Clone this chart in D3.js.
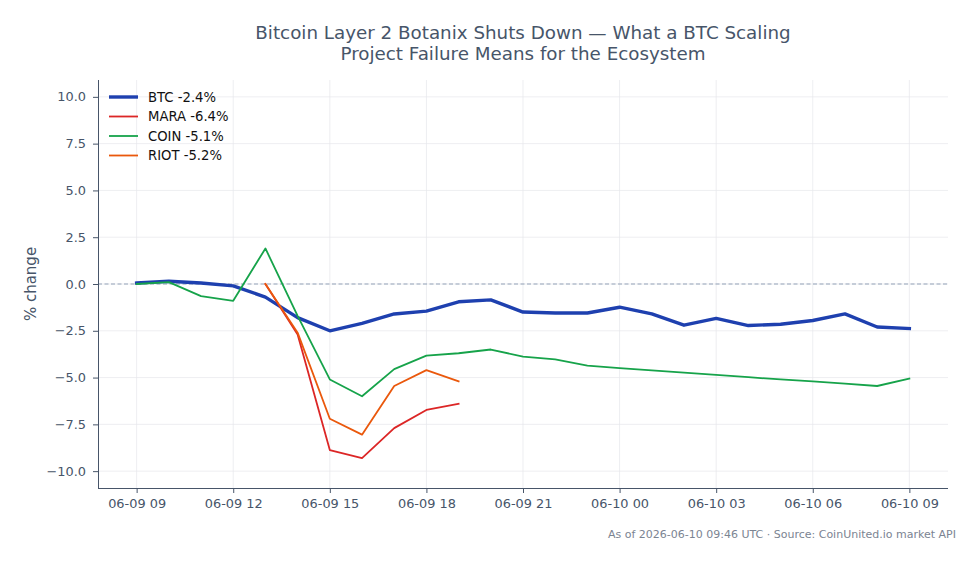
<!DOCTYPE html>
<html>
<head>
<meta charset="utf-8">
<script src="https://cdn.jsdelivr.net/npm/d3@7"></script>
<style>
  body { margin: 0; background: #fff; }
  svg { font-family: "DejaVu Sans", sans-serif; }
</style>
</head>
<body>
<div id="chart"></div>
<script>
const width = 979, height = 564;
const margin = {top: 80, right: 31, bottom: 76, left: 98};

// hourly points from 2026-06-09 09:00 UTC
const start = Date.UTC(2026, 5, 9, 9);
const hours = d3.range(25).map(i => new Date(start + i * 3600e3));

const btc = [0.05, 0.15, 0.05, -0.1, -0.7, -1.8, -2.5, -2.1, -1.6, -1.45, -0.95, -0.85, -1.5,
             -1.55, -1.55, -1.24, -1.6, -2.2, -1.84, -2.22, -2.15, -1.95, -1.6, -2.3, -2.38];
const coin = [0.0, 0.1, -0.65, -0.9, 1.9, -1.7, -5.1, -6.0, -4.55, -3.83, -3.7, -3.5, -3.88,
              -4.03, -4.36, -4.5, -4.62, -4.74, -4.86, -4.98, -5.1, -5.2, -5.32, -5.45, -5.05];
const mara = [0.0, -2.7, -8.87, -9.3, -7.7, -6.73, -6.4];   // from 13:00
const riot = [0.0, -2.6, -7.2, -8.05, -5.45, -4.6, -5.2];   // from 13:00

const series = [
  {name: "BTC -2.4%",  color: "#1e40af", w: 3.4, times: hours, values: btc},
  {name: "MARA -6.4%", color: "#dc2626", w: 1.8, times: hours.slice(4, 11), values: mara},
  {name: "COIN -5.1%", color: "#16a34a", w: 1.8, times: hours, values: coin},
  {name: "RIOT -5.2%", color: "#ea580c", w: 1.8, times: hours.slice(4, 11), values: riot}
];

const yTicks = [-10, -7.5, -5, -2.5, 0, 2.5, 5, 7.5, 10];

const pad = 1.2 * 3600e3;
const x = d3.scaleUtc()
  .domain([new Date(start - pad), new Date(+hours[24] + pad)])
  .range([margin.left, width - margin.right]);
const y = d3.scaleLinear()
  .domain([-10.9, 10.9])
  .range([height - margin.bottom, margin.top]);

const svg = d3.select("#chart").append("svg")
  .attr("width", width)
  .attr("height", height);

// grid
const xTicks = d3.utcHour.every(3).range(hours[0], new Date(+hours[24] + 1));
svg.append("g").selectAll("line").data(xTicks).enter().append("line")
  .attr("x1", d => x(d)).attr("x2", d => x(d))
  .attr("y1", margin.top).attr("y2", height - margin.bottom)
  .attr("stroke", "#e5e7eb").attr("stroke-width", 0.7);
svg.append("g").selectAll("line").data(yTicks).enter().append("line")
  .attr("x1", margin.left).attr("x2", width - margin.right)
  .attr("y1", d => y(d)).attr("y2", d => y(d))
  .attr("stroke", "#e5e7eb").attr("stroke-width", 0.7);

// zero line
svg.append("line")
  .attr("x1", margin.left).attr("x2", width - margin.right)
  .attr("y1", y(0)).attr("y2", y(0))
  .attr("stroke", "#94a3b8").attr("stroke-width", 1)
  .attr("stroke-dasharray", "4,2.5");

// axes
const fmtY = d => d3.format(".1f")(d).replace("-", "\u2212");
const yAxis = svg.append("g")
  .attr("transform", `translate(${margin.left},0)`)
  .call(d3.axisLeft(y).tickValues(yTicks).tickFormat(fmtY).tickSize(5).tickPadding(7));
const xAxis = svg.append("g")
  .attr("transform", `translate(0,${height - margin.bottom})`)
  .call(d3.axisBottom(x).tickValues(xTicks).tickFormat(d3.utcFormat("%m-%d %H")).tickSize(5).tickPadding(6));

[yAxis, xAxis].forEach(a => {
  a.attr("font-family", null).attr("font-size", null);
  a.select(".domain").attr("stroke", "#475569").attr("stroke-width", 1);
  a.selectAll(".tick line").attr("stroke", "#475569");
  a.selectAll(".tick text").attr("fill", "#475569").style("font-size", "12.9px");
});
yAxis.select(".domain").attr("d", `M0.5,${margin.top}V${height - margin.bottom}`);
xAxis.select(".domain").attr("d", `M${margin.left},0.5H${width - margin.right}`);

// lines
const line = d3.line().x(d => x(d[0])).y(d => y(d[1]));
series.forEach(s => {
  svg.append("path")
    .datum(d3.zip(s.times, s.values))
    .attr("fill", "none")
    .attr("stroke", s.color)
    .attr("stroke-width", s.w)
    .attr("stroke-linejoin", "round")
    .attr("stroke-linecap", "square")
    .attr("d", line);
});

// legend
const legend = svg.append("g").attr("transform", "translate(109,97)");
series.forEach((s, i) => {
  const g = legend.append("g").attr("transform", `translate(0,${i * 19.5})`);
  g.append("line").attr("x1", 0).attr("x2", 29).attr("y1", 0).attr("y2", 0)
    .attr("stroke", s.color).attr("stroke-width", s.w);
  g.append("text").attr("x", 39).attr("y", 4.8)
    .style("font-size", "13.2px").attr("fill", "#111").text(s.name);
});

// title
const title = svg.append("text")
  .attr("text-anchor", "middle")
  .attr("fill", "#475569")
  .style("font-size", "18.3px");
title.append("tspan").attr("x", 523).attr("y", 38.5)
  .text("Bitcoin Layer 2 Botanix Shuts Down \u2014 What a BTC Scaling");
title.append("tspan").attr("x", 523).attr("y", 60)
  .text("Project Failure Means for the Ecosystem");

// y label
svg.append("text")
  .attr("transform", `translate(36,${y(0)}) rotate(-90)`)
  .attr("text-anchor", "middle")
  .attr("fill", "#475569")
  .style("font-size", "15px")
  .text("% change");

// footer
svg.append("text")
  .attr("x", 956).attr("y", 538)
  .attr("text-anchor", "end")
  .attr("fill", "#7b8492")
  .style("font-size", "11px")
  .text("As of 2026-06-10 09:46 UTC \u00b7 Source: CoinUnited.io market API");
</script>
</body>
</html>
